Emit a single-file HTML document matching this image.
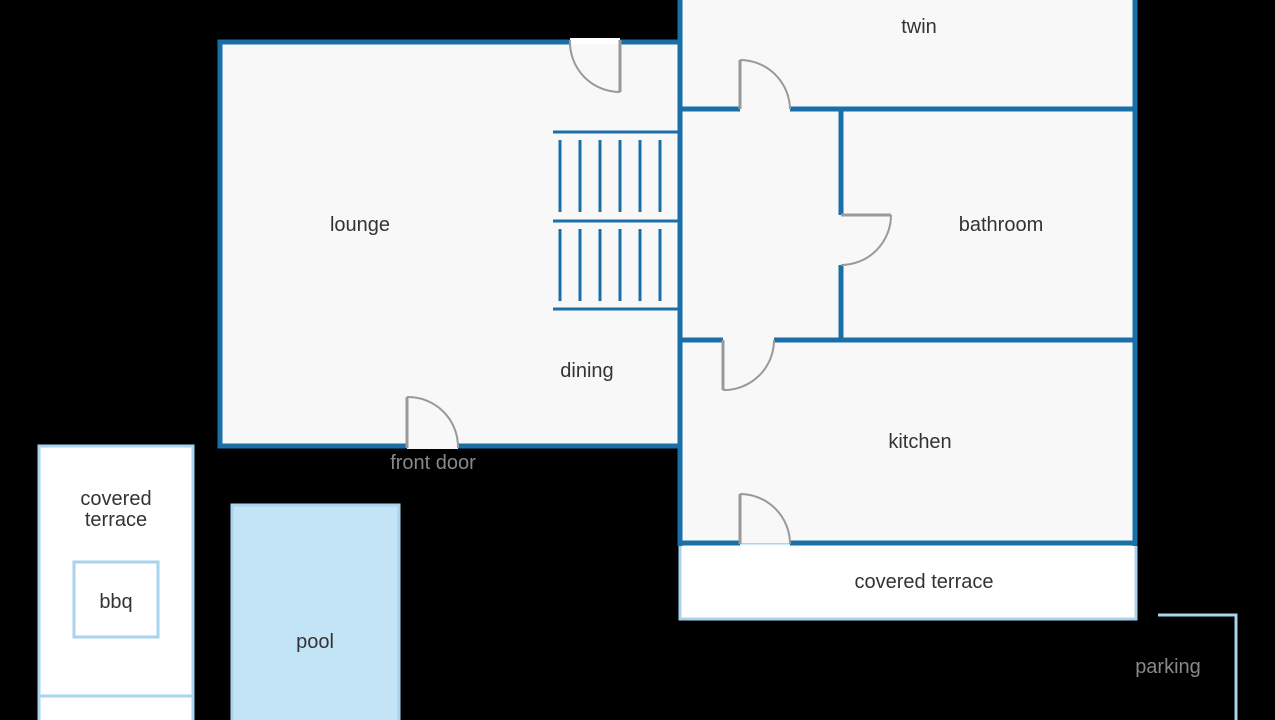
<!DOCTYPE html>
<html><head><style>
body{margin:0;background:#000;}
svg{display:block}
text{font-family:"Liberation Sans",sans-serif;font-size:20px;fill:#333;text-anchor:middle}
</style></head><body>
<svg width="1275" height="720" viewBox="0 0 1275 720" xmlns="http://www.w3.org/2000/svg">
<rect width="1275" height="720" fill="#000"/>
<!-- outdoor -->
<rect x="39" y="446" width="154" height="290" fill="#fff" stroke="#a9d3ee" stroke-width="3"/>
<line x1="39" y1="696" x2="193" y2="696" stroke="#a9d3ee" stroke-width="3"/>
<rect x="74" y="562" width="84" height="75" fill="#fff" stroke="#a9d3ee" stroke-width="3"/>
<rect x="232" y="505" width="167" height="230" fill="#c3e4f7" stroke="#a9d3ee" stroke-width="3"/>
<rect x="680" y="543" width="456" height="76" fill="#fff" stroke="#a9d3ee" stroke-width="3"/>
<polyline points="1158,615 1236,615 1236,720" fill="none" stroke="#a9d3ee" stroke-width="3"/>
<!-- rooms -->
<rect x="220" y="42" width="460" height="404" fill="#f8f8f8"/>
<rect x="680" y="-5" width="455" height="548" fill="#f8f8f8"/>
<g stroke="#1a6fa8" stroke-width="5" fill="none">
<polyline points="570,42 220,42 220,446 407,446"/>
<line x1="458" y1="446" x2="680" y2="446"/>
<line x1="620" y1="42" x2="680" y2="42"/>
<line x1="680" y1="-5" x2="680" y2="546"/>
<line x1="1135" y1="-5" x2="1135" y2="546"/>
<line x1="680" y1="109" x2="740" y2="109"/>
<line x1="790" y1="109" x2="1135" y2="109"/>
<line x1="841" y1="109" x2="841" y2="215"/>
<line x1="841" y1="265" x2="841" y2="340"/>
<line x1="680" y1="340" x2="723" y2="340"/>
<line x1="774" y1="340" x2="1135" y2="340"/>
<line x1="680" y1="543" x2="740" y2="543"/>
<line x1="790" y1="543" x2="1135" y2="543"/>
</g>
<!-- stairs -->
<g stroke="#1a6fa8" stroke-width="3">
<line x1="553" y1="132" x2="680" y2="132"/>
<line x1="553" y1="221" x2="680" y2="221"/>
<line x1="553" y1="309" x2="680" y2="309"/>
<line x1="560" y1="140" x2="560" y2="212"/><line x1="580" y1="140" x2="580" y2="212"/><line x1="600" y1="140" x2="600" y2="212"/><line x1="620" y1="140" x2="620" y2="212"/><line x1="640" y1="140" x2="640" y2="212"/><line x1="660" y1="140" x2="660" y2="212"/>
<line x1="560" y1="229" x2="560" y2="301"/><line x1="580" y1="229" x2="580" y2="301"/><line x1="600" y1="229" x2="600" y2="301"/><line x1="620" y1="229" x2="620" y2="301"/><line x1="640" y1="229" x2="640" y2="301"/><line x1="660" y1="229" x2="660" y2="301"/>
</g>
<!-- doors -->
<g fill="none" stroke="#999">
<rect x="570" y="38" width="50" height="6" fill="#fff" stroke="none"/>
<path d="M570,40 A50,50 0 0 0 620,92" stroke-width="2"/><line x1="620" y1="40" x2="620" y2="92" stroke-width="3"/>
<path d="M740,60 A50,50 0 0 1 790,109" stroke-width="2"/><line x1="740" y1="109" x2="740" y2="60" stroke-width="3"/>
<path d="M891,215 A50,50 0 0 1 841,265" stroke-width="2"/><line x1="841" y1="215" x2="891" y2="215" stroke-width="3"/>
<path d="M774,340 A50,50 0 0 1 723,390" stroke-width="2"/><line x1="723" y1="340" x2="723" y2="390" stroke-width="3"/>
<rect x="407" y="443" width="51" height="6" fill="#f8f8f8" stroke="none"/>
<path d="M407,397 A50,50 0 0 1 458,448" stroke-width="2"/><line x1="407" y1="448" x2="407" y2="397" stroke-width="3"/>
<path d="M740,494 A50,50 0 0 1 790,544" stroke-width="2"/><line x1="740" y1="544" x2="740" y2="494" stroke-width="3"/>
</g>
<!-- labels -->
<text x="919" y="33">twin</text>
<text x="360" y="231">lounge</text>
<text x="1001" y="231">bathroom</text>
<text x="587" y="377">dining</text>
<text x="920" y="448">kitchen</text>
<text x="433" y="469" style="fill:#888">front door</text>
<text x="116" y="505">covered</text>
<text x="116" y="526">terrace</text>
<text x="116" y="608">bbq</text>
<text x="315" y="648">pool</text>
<text x="924" y="588">covered terrace</text>
<text x="1168" y="673" style="fill:#888">parking</text>
</svg>
</body></html>
